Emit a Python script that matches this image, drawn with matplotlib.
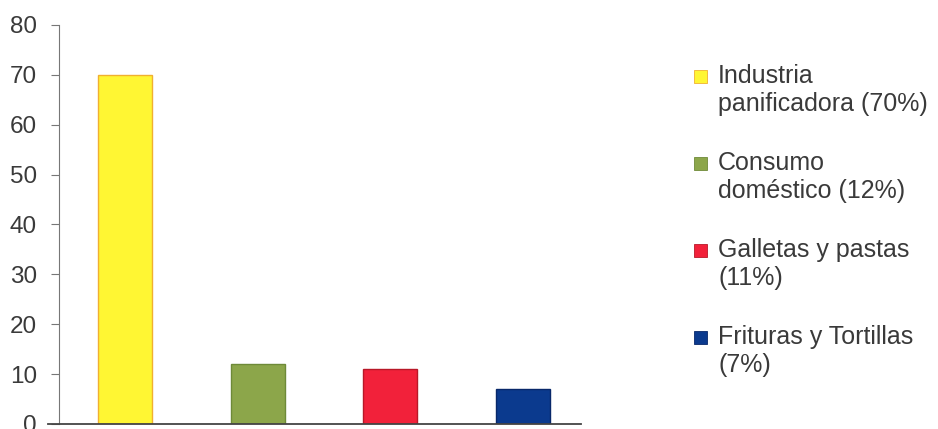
import matplotlib
matplotlib.use("Agg")
import matplotlib.pyplot as plt
from matplotlib.patches import Rectangle

plt.rcParams['font.family'] = ['Liberation Sans', 'DejaVu Sans']

# data
categories = ["Industria\npanificadora (70%)", "Consumo\ndoméstico (12%)",
              "Galletas y pastas\n(11%)", "Frituras y Tortillas\n(7%)"]
values = [70, 12, 11, 7]
colors = ["#FFF633", "#8CA64A", "#F2213A", "#0B3A8E"]
edges = ["#F0B030", "#6E8A38", "#B81828", "#08286A"]
yticks = [0, 10, 20, 30, 40, 50, 60, 70, 80]

W, H = 938, 429
fig = plt.figure(figsize=(W / 100, H / 100), dpi=100)
ax = fig.add_axes([59 / W, 5 / H, 530 / W, 399 / H])

x = range(len(values))
ax.bar(x, values, width=0.41, color=colors, edgecolor=edges, linewidth=1)

ax.set_xlim(-0.5, 3.5)
ax.set_ylim(0, 80)
ax.set_yticks(yticks)
ax.set_xticks([])
ax.tick_params(axis='y', direction='out', length=6, color='#777777',
               labelsize=17.5, labelcolor='#3a3a3a', pad=10)
for s in ['top', 'right']:
    ax.spines[s].set_visible(False)
ax.spines['left'].set_color('#777777')
ax.spines['bottom'].set_color('#444444')
ax.spines['bottom'].set_linewidth(1.3)
ax.spines['bottom'].set_bounds(-0.585, 3.44)
ax.spines['bottom'].set_clip_on(False)

# legend, drawn by hand so the swatch sits on the first text line
base0, step, line_gap = 83, 87, 28
for i, (lab, c, e) in enumerate(zip(categories, colors, edges)):
    b = base0 + i * step
    fig.patches.append(Rectangle((694 / W, 1 - b / H), 13 / W, 13 / H,
                                 transform=fig.transFigure, facecolor=c,
                                 edgecolor=e, linewidth=0.6))
    for j, line in enumerate(lab.split("\n")):
        fig.text(718 / W, 1 - (b + j * line_gap) / H, line, fontsize=18,
                 color='#3a3a3a', va='baseline', ha='left')

fig.savefig("out.png", dpi=100)
